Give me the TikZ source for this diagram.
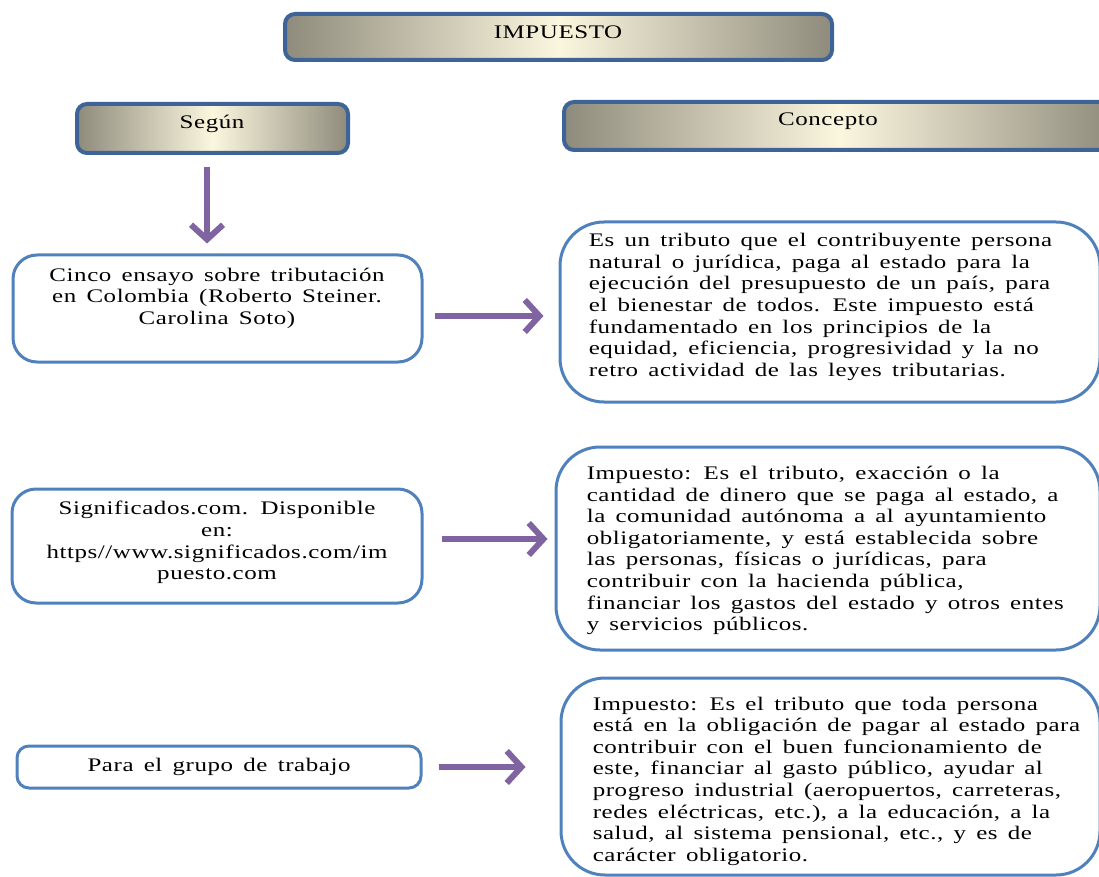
\documentclass[tikz,border=0pt]{standalone}
\usepackage{fontspec}
\setmainfont{Liberation Serif}[FakeStretch=1.3, LetterSpace=3, WordSpace=1.5]
\usetikzlibrary{arrows.meta}
\definecolor{hdrblue}{HTML}{3E6497}
\definecolor{boxblue}{HTML}{4F81BD}
\definecolor{arrpurple}{HTML}{8064A2}
\definecolor{edgegray}{HTML}{8F8B7C}
\definecolor{cream}{HTML}{FBF6DE}
\tikzset{
  hdr/.style={draw=hdrblue, line width=3pt, rounded corners=7.5pt,
    left color=edgegray, right color=edgegray, middle color=cream,
    inner sep=0pt},
  lbox/.style={draw=boxblue, line width=2.25pt, rounded corners=18pt,
    fill=white, inner sep=0pt},
  rbox/.style={draw=boxblue, line width=2.25pt, rounded corners=33pt,
    fill=white, inner sep=0pt},
  txt/.style={inner sep=0pt, font=\fontsize{14.4}{16.2}\selectfont},
  ctxt/.style={txt, align=center},
  ltxt/.style={txt, align=left, anchor=west},
  arr/.style={draw=arrpurple, line width=4.5pt,
    -{Straight Barb[length=11pt, width=24pt]}},
}
\begin{document}
\begin{tikzpicture}[x=0.75pt, y=-0.75pt]
\useasboundingbox (0,0) rectangle (1099,877);
\clip (0,0) rectangle (1099,877);

% headings
\node[hdr, minimum width=410.25pt, minimum height=34.5pt] (imp) at (558.5,37) {};
\node[txt] (impt) at (558,32) {IMPUESTO};
\node[hdr, minimum width=203.25pt, minimum height=36.75pt] (seg) at (212.5,128.5) {};
\node[txt] (segt) at (212,124) {Según};
\node[hdr, minimum width=413.25pt, minimum height=36pt] (con) at (839.5,126) {};
\node[txt] (cont) at (828,121) {Concepto};

% sources
\node[lbox, minimum width=306.75pt, minimum height=80.25pt] (b1) at (217.5,308.5) {};
\node[ctxt] (b1t) at (217,298) {Cinco ensayo sobre tributación\\en Colombia (Roberto Steiner.\\Carolina Soto)};
\node[lbox, minimum width=307.5pt, minimum height=85.5pt] (b2) at (217,546) {};
\node[ctxt] (b2t) at (217,542.5) {Significados.com. Disponible\\en:\\https//www.significados.com/im\\puesto.com};
\node[lbox, rounded corners=9pt, minimum width=303pt, minimum height=31.5pt] (b3) at (219,767) {};
\node[ctxt] (b3t) at (219,767) {Para el grupo de trabajo};

% definitions
\node[rbox, minimum width=405pt, minimum height=135pt] (r1) at (830,312) {};
\node[ltxt] (r1t) at ([xshift=22.5pt, yshift=3.75pt]r1.west) {Es un tributo que el contribuyente persona\\natural o jurídica, paga al estado para la\\ejecución del presupuesto de un país, para\\el bienestar de todos. Este impuesto está\\fundamentado en los principios de la\\equidad, eficiencia, progresividad y la no\\retro actividad de las leyes tributarias.};
\node[rbox, minimum width=408pt, minimum height=152.25pt] (r2) at (828,548.5) {};
\node[ltxt] (r2t) at ([xshift=24pt, yshift=-1.5pt]r2.west) {Impuesto: Es el tributo, exacción o la\\cantidad de dinero que se paga al estado, a\\la comunidad autónoma a al ayuntamiento\\obligatoriamente, y está establecida sobre\\las personas, físicas o jurídicas, para\\contribuir con la hacienda pública,\\financiar los gastos del estado y otros entes\\y servicios públicos.};
\node[rbox, minimum width=404.25pt, minimum height=147.75pt] (r3) at (830.5,776.5) {};
\node[ltxt] (r3t) at ([xshift=24.75pt, yshift=-3.4pt]r3.west) {Impuesto: Es el tributo que toda persona\\está en la obligación de pagar al estado para\\contribuir con el buen funcionamiento de\\este, financiar al gasto público, ayudar al\\progreso industrial (aeropuertos, carreteras,\\redes eléctricas, etc.), a la educación, a la\\salud, al sistema pensional, etc., y es de\\carácter obligatorio.};

% arrows
\coordinate (d0) at ([xshift=-4.1pt]seg.south);
\draw[arr, shorten <=9pt, shorten >=7.5pt] (d0) -- (d0 |- b1.north);
\coordinate (a1) at ([yshift=-5.6pt]b1.east);
\draw[arr, shorten <=8.25pt, shorten >=11.25pt] (a1) -- (a1 -| r1.west);
\coordinate (a2) at ([yshift=5.25pt]b2.east);
\draw[arr, shorten <=13.5pt, shorten >=5.25pt] (a2) -- (a2 -| r2.west);
\coordinate (a3) at (b3.east);
\draw[arr, shorten <=12pt, shorten >=25.5pt] (a3) -- (a3 -| r3.west);
\end{tikzpicture}
\end{document}
